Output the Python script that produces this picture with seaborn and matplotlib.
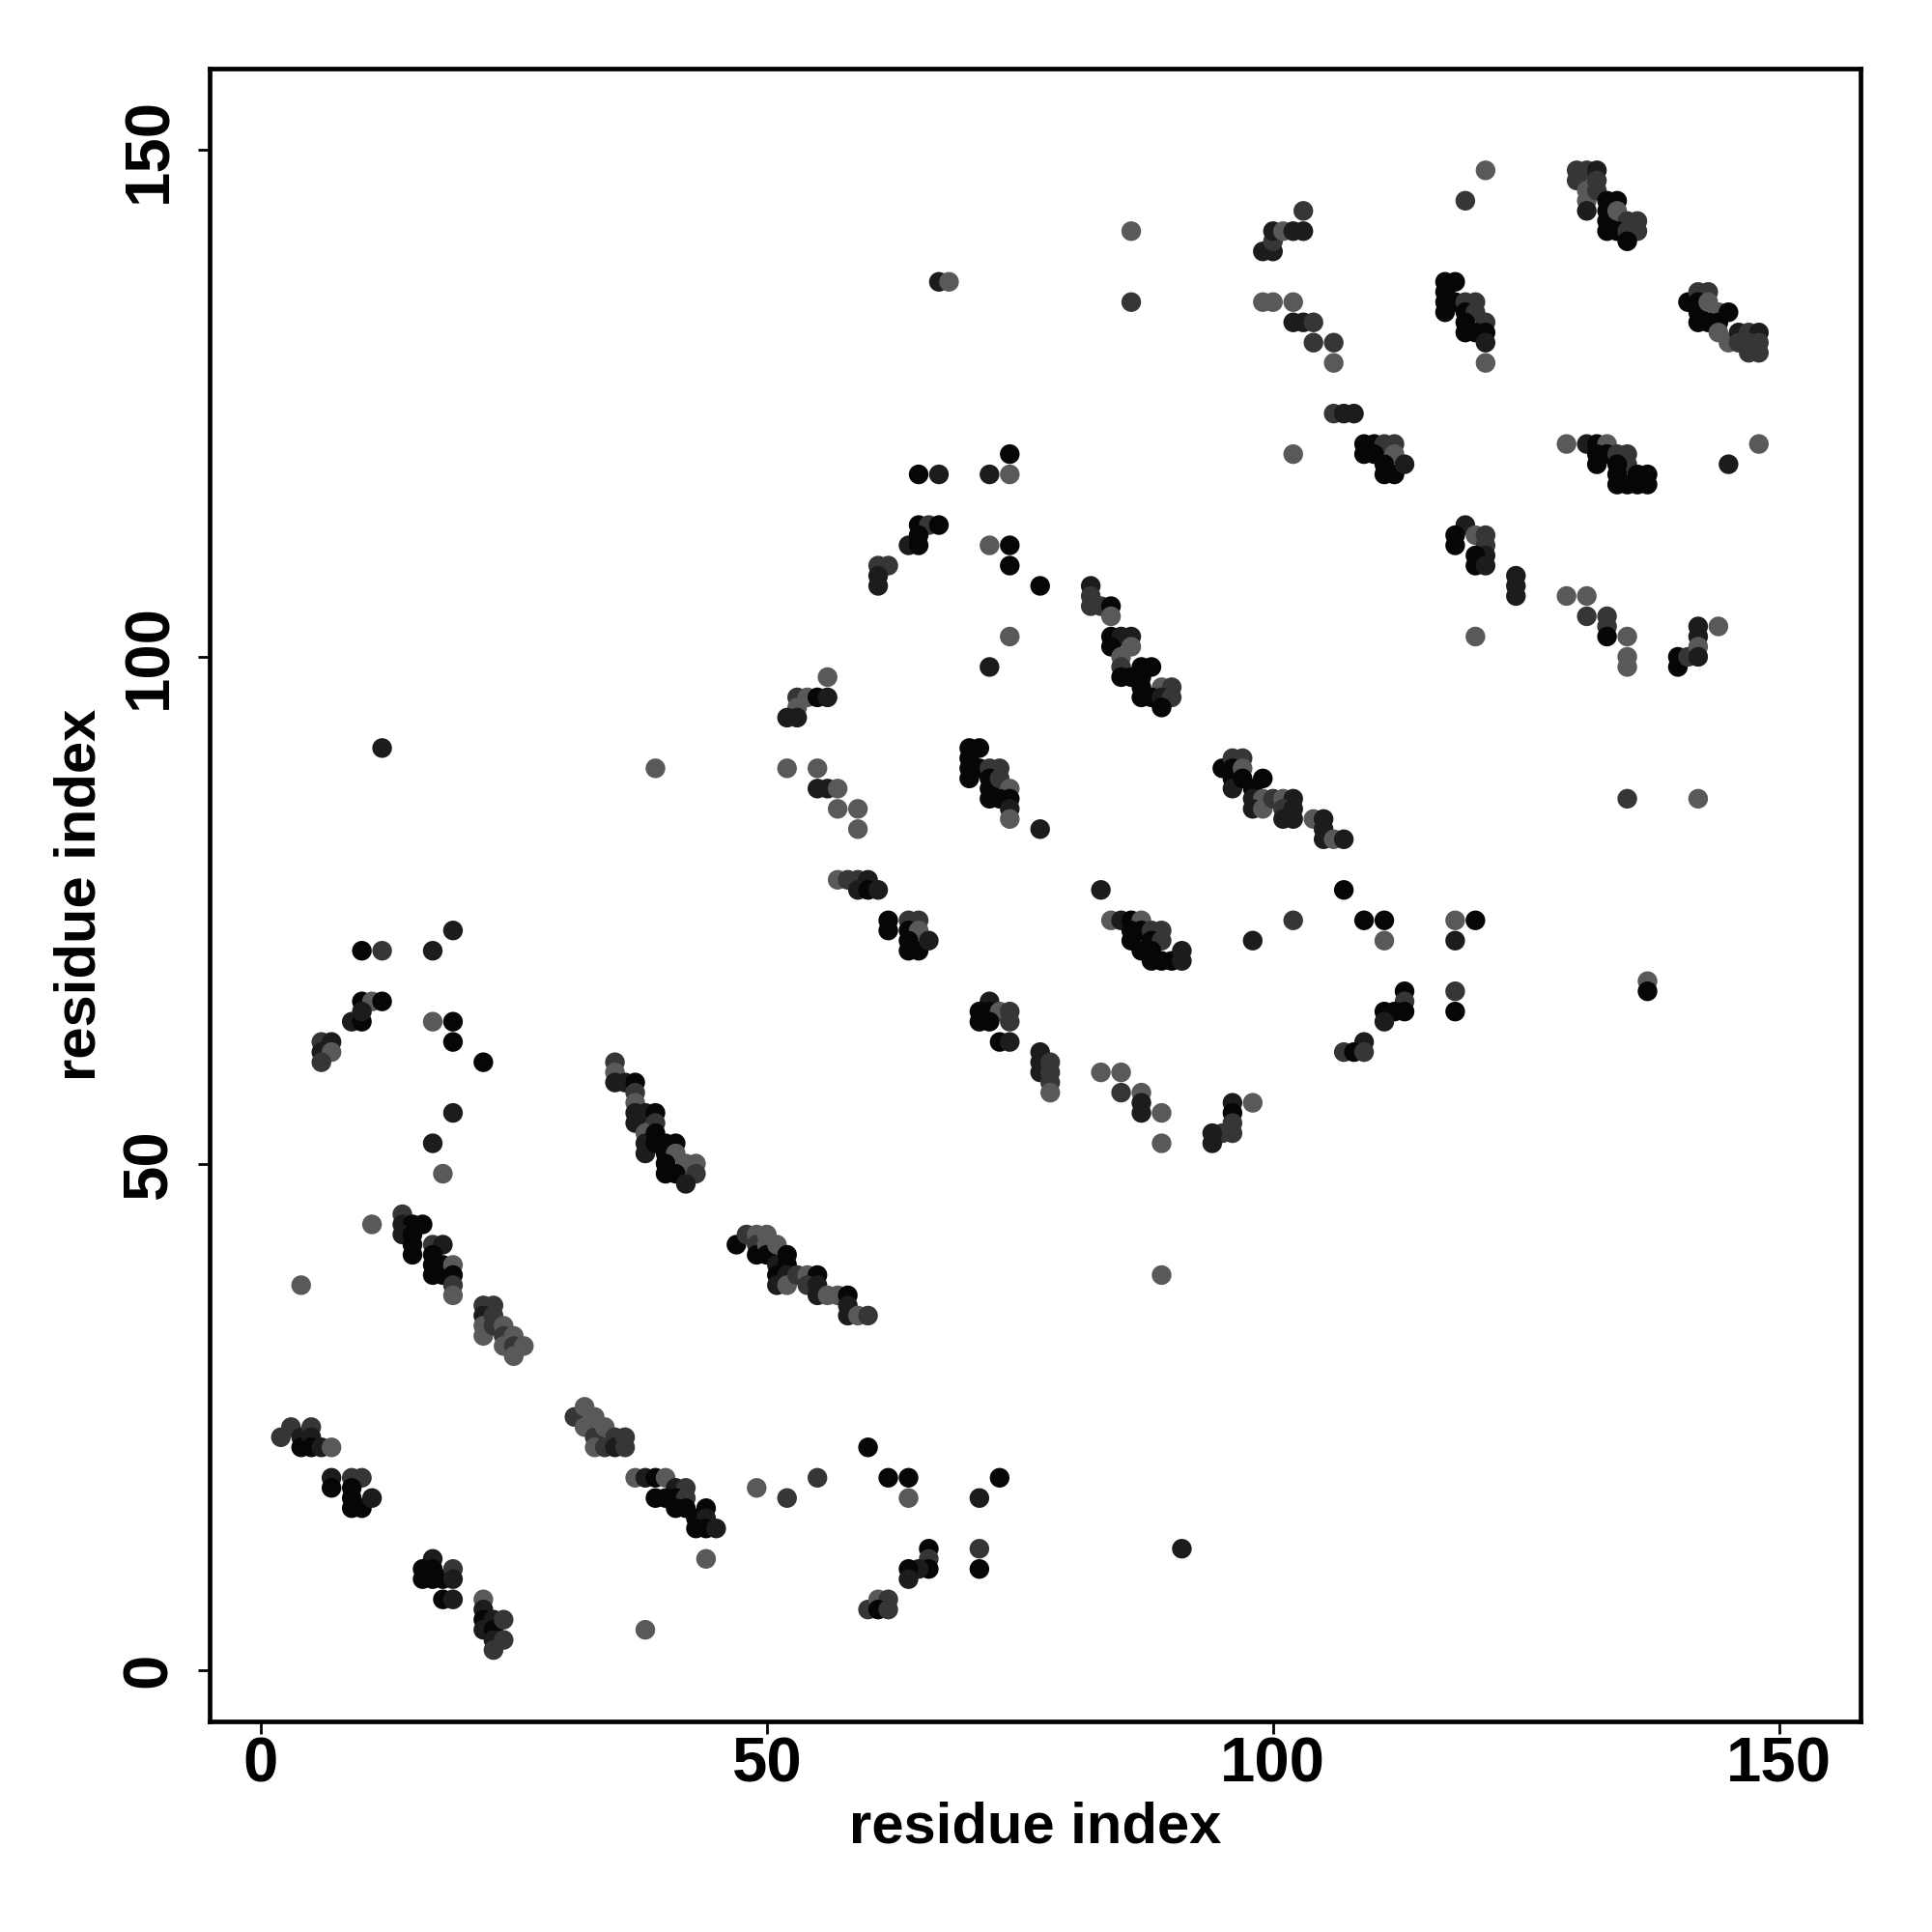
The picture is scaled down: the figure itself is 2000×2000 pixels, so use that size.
import pandas as pd
import matplotlib
matplotlib.use("Agg")
import matplotlib.pyplot as plt
import seaborn as sns

# contacts: (residue i, residue j, shade level 0=black .. 3=grey)
strand_a = [(2,23,2),(3,24,2),(4,23,1),(4,22,0),(5,24,2),(5,23,1),(5,22,0),(6,22,1),(7,22,3)]
strand_d = [(7,19,1),(7,18,0),(9,19,2),(10,19,2),(9,18,0),(9,17,0),(9,16,0),(10,16,0),(11,17,1)]
strand_e = [(17,11,1),(16,10,0),(16,9,0),(17,10,0),(17,9,0),(18,9,0),(19,10,2),(19,9,1),(18,7,0),(19,7,1)]
strand_f = [(22,7,3),(22,6,1),(22,5,0),(22,4,1),(23,5,1),(23,4,0),(23,3,1),(24,5,2),(24,3,2),(23,2,2)]
strand_g = [(31,25,2),(32,26,3),(32,24,3),(33,25,3),(33,23,2),(33,22,3),(34,24,3),(34,22,2),
            (35,23,2),(35,22,1),(36,23,2),(36,22,2)]
strand_h = [(37,19,3),(38,19,1),(39,19,0),(40,19,3),(41,18,1),(42,18,2),(39,17,0),(40,17,0),(41,17,0),
            (42,17,2),(41,16,0),(42,16,0),(44,16,0),(43,15,0),(44,15,1),(43,14,0),(44,14,0),(45,14,1)]
strand_b = [(14,45,2),(14,44,1),(15,44,0),(16,44,0),(14,43,1),(15,43,0),(15,42,0),(15,41,0),(17,42,2),
            (18,42,1),(17,41,0),(17,40,0),(18,40,0),(17,39,0),(18,39,0),(19,40,3),(19,39,0),(19,38,2),(19,37,3)]
strand_c = [(22,36,2),(23,36,2),(22,35,1),(22,34,3),(22,33,3),(23,35,2),(23,34,2),(24,34,3),(24,33,2),
            (24,32,3),(25,33,3),(25,32,2),(25,31,3),(26,32,3)]
strand_i = [(35,60,2),(35,59,3),(35,58,1),(36,58,1),(37,58,0),(37,57,2),(37,56,3),(37,55,1),(37,54,1),
            (38,55,1),(39,55,0),(39,54,2),(38,53,3),(38,52,1),(38,51,1),(39,53,0),(39,52,0),(40,52,0),
            (41,52,0),(40,51,0),(41,51,3),(42,50,3),(43,50,3),(40,50,0),(40,49,0),(41,49,0),(43,49,2),(42,48,1)]
strand_o = [(47,42,0),(48,43,2),(49,43,3),(49,42,2),(49,41,0),(50,43,3),(50,42,3),(50,41,0),(51,42,3),
            (51,40,1),(52,41,0),(52,40,0),(51,39,0),(52,39,1),(51,38,1),(52,38,3),(53,39,2),(54,39,3),
            (55,39,0),(54,38,2),(55,38,1),(55,37,1),(56,37,3),(57,37,3),(58,37,0),(58,36,1),(58,35,1),
            (59,35,3),(60,35,2)]
low_singles = [(4,38,3),(11,44,3),(18,49,3),(38,4,3),(44,11,3),(49,18,3),(60,22,0),(55,19,2),(52,17,2),
               (62,19,0),(64,19,0),(64,17,3),(73,19,0),(71,17,1),(66,12,0),(66,11,2),(66,10,0),(65,10,1),
               (64,10,0),(64,9,1),(71,12,2),(71,10,0),(91,12,1),(60,6,2),(61,7,3),(62,7,2),(61,6,0),
               (62,6,2),(89,39,3)]
left_mid = [(12,91,1),(39,89,3),(19,73,1),(10,71,0),(12,71,2),(17,71,1),(10,66,0),(11,66,3),(12,66,0),
            (9,64,1),(10,64,0),(10,65,1),(6,62,2),(7,62,1),(6,61,1),(7,61,3),(6,60,2),(17,64,3),(19,64,0),
            (19,62,0),(22,60,0),(19,55,1),(17,52,1)]
strand_w = [(56,98,3),(53,96,2),(54,96,3),(55,96,0),(56,96,1),(53,95,3),(52,94,1),(53,94,1),(52,89,3),
            (55,89,3),(55,87,1),(56,87,1),(57,87,3),(57,85,3),(59,85,3),(59,83,3),(57,78,3),(58,78,2),
            (59,78,2),(60,78,1),(59,77,1),(60,77,0),(61,77,1),(62,74,0),(62,73,0),(64,74,2),(65,74,2),
            (64,73,0),(65,73,3),(64,72,0),(64,71,0),(65,71,0),(66,72,1),(74,102,3),(72,99,1)]
strand_j = [(70,91,0),(71,91,0),(70,90,0),(70,89,0),(70,88,0),(71,89,0),(72,89,2),(73,89,2),(72,88,0),
            (72,87,0),(73,88,2),(74,87,3),(72,86,0),(73,86,0),(74,86,0),(74,85,1),(74,84,3),(77,83,1)]
strand_v = [(82,107,1),(82,106,2),(82,105,2),(83,105,2),(84,105,0),(84,104,3),(84,102,0),(85,102,1),
            (86,102,1),(84,101,0),(86,101,3),(85,100,3),(85,99,2),(87,99,0),(88,99,0),(85,98,0),(86,98,0),
            (87,98,0),(87,97,0),(89,97,3),(90,97,2),(87,96,0),(88,96,0),(89,96,1),(90,96,2),(89,95,0)]
strand_k = [(95,89,0),(96,90,2),(97,90,2),(96,89,0),(96,88,0),(96,87,1),(97,89,3),(97,88,0),(98,87,0),
            (99,88,0),(98,86,1),(99,86,3),(98,85,1),(99,85,3),(100,86,2),(101,86,3),(102,86,1),(101,85,2),
            (102,85,1),(101,84,1),(102,84,1),(104,84,3),(105,84,1),(105,83,1),(105,82,1),(106,82,3),(107,82,1)]
strand_l = [(83,77,1),(84,74,3),(85,74,1),(86,74,0),(87,74,3),(86,73,0),(86,72,0),(87,73,0),(88,73,2),
            (89,73,2),(88,72,0),(89,72,2),(87,71,0),(88,71,0),(88,70,0),(89,70,0),(90,70,0),(91,70,1),
            (91,71,1),(98,72,1),(102,74,2)]
strand_m = [(72,66,1),(71,65,0),(72,65,0),(73,65,3),(74,65,2),(71,64,0),(72,64,0),(74,64,2),(73,62,0),(74,62,1)]
strand_n = [(77,61,1),(77,60,1),(77,59,1),(78,60,2),(78,59,2),(78,58,2),(78,57,3),(83,59,3),(85,59,3),
            (85,57,2),(87,57,3),(87,56,1),(87,55,1),(89,55,3),(89,52,3),(96,56,1),(96,55,0),(96,54,2),
            (95,53,2),(96,53,2),(94,53,1),(94,52,1),(98,56,3)]
upper_mid = [(67,137,1),(68,137,3),(86,142,3),(86,135,2),(99,140,1),(100,140,1),(100,141,2),(100,142,1),
             (101,142,3),(102,142,1),(103,142,1),(103,144,2),(99,135,3),(100,135,3),(102,135,3),(102,133,1),
             (103,133,1),(104,133,2),(104,131,2),(106,131,2),(106,129,3),(102,120,3),(65,118,0),(67,118,1),
             (72,118,1),(74,118,3),(74,120,0),(65,113,0),(66,113,2),(67,113,0),(64,111,1),(65,111,0),
             (65,112,0),(72,111,3),(74,111,0),(74,109,0),(61,109,2),(62,109,2),(61,108,1),(61,107,1),(77,107,0)]
strand_p = [(121,148,3),(119,145,2),(130,148,2),(131,148,2),(132,148,1),(130,147,2),(131,146,3),(131,145,3),
            (131,144,1),(132,147,2),(132,146,2),(133,145,0),(134,145,0),(133,144,0),(133,143,0),(133,142,0),
            (134,144,3),(135,143,2),(136,143,2),(134,142,0),(135,142,2),(136,142,2),(135,141,0)]
strand_q = [(117,137,0),(118,137,0),(117,136,0),(117,135,0),(117,134,0),(118,135,0),(119,135,2),(120,135,2),
            (119,134,0),(120,134,2),(121,133,2),(119,133,0),(119,132,0),(120,132,0),(121,132,0),(121,131,1),
            (121,129,3)]
strand_r = [(141,135,0),(142,136,2),(143,136,2),(142,135,0),(142,134,0),(143,135,3),(144,134,3),(142,133,0),
            (143,133,0),(144,133,0),(145,134,0),(144,132,3),(145,131,3),(146,132,1),(147,132,2),(148,132,1),
            (146,131,2),(147,131,2),(148,131,2),(147,130,2),(148,130,2)]
strand_s = [(106,124,2),(107,124,1),(108,124,1),(109,121,0),(110,121,0),(111,121,2),(112,121,2),(109,120,0),
            (110,120,0),(112,120,3),(111,119,0),(112,118,0),(113,119,1),(111,118,0)]
strand_t = [(129,121,3),(131,121,1),(132,121,0),(133,121,3),(132,120,0),(132,119,0),(133,120,0),(134,120,2),
            (135,120,2),(135,119,2),(134,119,0),(134,117,0),(135,117,0),(136,117,0),(137,117,0),(134,118,0),
            (136,118,0),(137,118,0),(148,121,3),(145,119,1)]
strand_u = [(119,113,1),(118,112,0),(118,111,0),(120,112,3),(121,112,2),(121,111,2),(121,110,1),(120,110,0),
            (120,109,0),(121,109,1),(124,108,1),(124,107,1),(124,106,1),(129,106,3),(131,106,3),(131,104,2),
            (133,104,2),(133,103,2),(142,103,1),(144,103,3)]
right_mid = [(120,102,3),(133,102,0),(135,102,3),(135,100,3),(135,99,3),(140,100,0),(140,99,0),(141,100,2),
             (142,102,1),(142,101,3),(142,100,1),(135,86,2),(142,86,3),(107,77,0),(109,74,0),(111,74,0),
             (111,72,3),(118,74,3),(120,74,0),(118,72,1),(113,67,0),(113,66,2),(111,65,0),(112,65,0),
             (113,65,0),(111,64,1),(109,62,1),(107,61,2),(108,61,0),(109,61,2),(118,67,2),(118,65,0),
             (137,68,3),(137,67,0)]

shade_colors = {0: "#060606", 1: "#1c1c1c", 2: "#363636", 3: "#595959"}
tick_values = [0, 50, 100, 150]

groups = [strand_a, strand_d, strand_e, strand_f, strand_g, strand_h, strand_b, strand_c, strand_i,
          strand_o, low_singles, left_mid, strand_w, strand_j, strand_v, strand_k, strand_l, strand_m,
          strand_n, upper_mid, strand_p, strand_q, strand_r, strand_s, strand_t, strand_u, right_mid]
df = pd.DataFrame([p for g in groups for p in g], columns=["i", "j", "shade"])

sns.set_style("white")
plt.rcParams["font.family"] = ["Liberation Sans", "DejaVu Sans"]
plt.rcParams["font.weight"] = "bold"
plt.rcParams["text.color"] = "black"
plt.rcParams["axes.labelcolor"] = "black"
plt.rcParams["xtick.color"] = "black"
plt.rcParams["ytick.color"] = "black"

fig = plt.figure(figsize=(20, 20), dpi=100)
ax = fig.add_axes([0.1085, 0.109, 0.8545, 0.8555])

sns.scatterplot(data=df, x="i", y="j", hue="shade", palette=shade_colors, s=215,
                linewidth=0, legend=False, ax=ax)

ax.set_xlim(-5.04, 158.04)
ax.set_ylim(-5.04, 158.04)
ax.set_xticks(tick_values)
ax.set_yticks(tick_values)
ax.set_xticklabels([str(t) for t in tick_values], fontsize=47, fontweight="bold", color="black")
ax.set_yticklabels([str(t) for t in tick_values], fontsize=47, fontweight="bold", color="black",
                   rotation=90, va="center")
ax.tick_params(axis="both", direction="out", length=9, width=2, color="black",
               bottom=True, left=True, top=False, right=False)
ax.tick_params(axis="x", pad=2)
ax.tick_params(axis="y", pad=14)

for sp in ax.spines.values():
    sp.set_visible(True)
    sp.set_color("black")
    sp.set_linewidth(3.4)

ax.set_xlabel("residue index", fontsize=43, fontweight="bold", color="black")
ax.set_ylabel("residue index", fontsize=43, fontweight="bold", color="black")
ax.xaxis.label.set_va("center")
ax.yaxis.label.set_va("center")
ax.xaxis.set_label_coords(0.5, -0.0643)
ax.yaxis.set_label_coords(-0.0784, 0.5)

fig.savefig("out.png", dpi=100, facecolor="white")
